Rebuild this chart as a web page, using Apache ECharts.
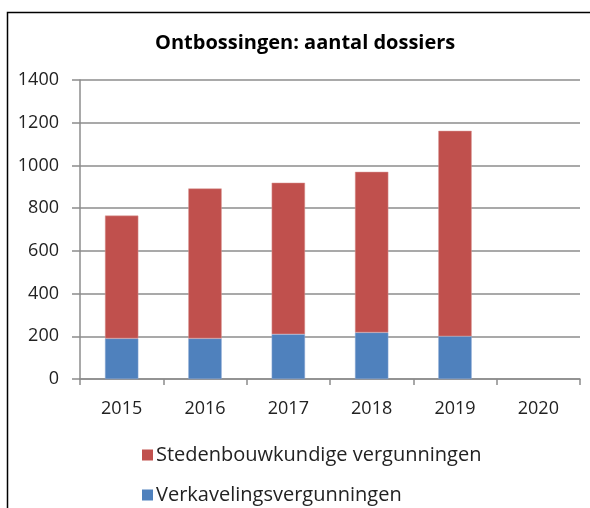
<!DOCTYPE html>
<html>
<head>
<meta charset="utf-8">
<script src="https://cdn.jsdelivr.net/npm/echarts@6/dist/echarts.min.js"></script>
<style>
  html, body { margin: 0; padding: 0; background: #fff; }
  #chart { width: 590px; height: 508px; }
</style>
</head>
<body>
<div id="chart"></div>
<script>
// categories
const years = ['2015', '2016', '2017', '2018', '2019', '2020'];
// verkavelingsvergunningen (onderste deel)
const verkaveling = [190, 190, 210, 218, 200, null];
// stedenbouwkundige vergunningen (bovenste deel)
const stedenbouw = [575, 702, 709, 752, 962, null];
const yTicks = { min: 0, max: 1400, interval: 200 };

const chart = echarts.init(document.getElementById('chart'));
const font = '"Open Sans", "Noto Sans", sans-serif';

// één legende per regel, onder elkaar
const legendItem = (name, top) => ({
  left: 137,
  top: top,
  itemWidth: 11,
  itemHeight: 11,
  icon: 'rect',
  itemStyle: { borderWidth: 0 },
  data: [name],
  textStyle: {
    fontFamily: font,
    fontSize: 20,
    color: '#222',
    padding: [0, 0, 0, -2],
  },
});

chart.setOption({
  animation: false,
  // kader rond de grafiek
  graphic: [
    {
      type: 'rect',
      shape: { x: 7.5, y: 12.5, width: 700, height: 700 },
      style: { fill: 'none', stroke: '#000', lineWidth: 1.5 },
      silent: true,
    },
  ],
  title: {
    text: 'Ontbossingen: aantal dossiers',
    left: 150,
    top: 28,
    textStyle: {
      fontFamily: font,
      fontSize: 20,
      fontWeight: 'bold',
      color: '#000',
    },
  },
  legend: [
    legendItem('Stedenbouwkundige vergunningen', 440),
    legendItem('Verkavelingsvergunningen', 480),
  ],
  grid: {
    left: 80,
    right: 10,
    top: 80,
    bottom: 129,
    containLabel: false,
  },
  xAxis: {
    type: 'category',
    data: years,
    axisLine: { lineStyle: { color: '#8c8c8c', width: 1.5 } },
    axisTick: { show: true, length: 6, lineStyle: { color: '#8c8c8c', width: 1.5 } },
    axisLabel: {
      margin: 21,
      fontFamily: font,
      fontSize: 18,
      color: '#222',
    },
  },
  yAxis: {
    type: 'value',
    min: yTicks.min,
    max: yTicks.max,
    interval: yTicks.interval,
    axisLine: { show: true, lineStyle: { color: '#8c8c8c', width: 1.5 } },
    axisTick: { show: true, length: 8, lineStyle: { color: '#8c8c8c', width: 1.5 } },
    splitLine: { lineStyle: { color: '#8c8c8c', width: 1.5 } },
    axisLabel: {
      margin: 21,
      fontFamily: font,
      fontSize: 18,
      color: '#222',
      formatter: (v) => String(v),
    },
  },
  series: [
    {
      name: 'Verkavelingsvergunningen',
      type: 'bar',
      stack: 'totaal',
      barWidth: '40%',
      itemStyle: { color: '#4f81bd', borderColor: '#8eaad6', borderWidth: 0.5 },
      data: verkaveling,
    },
    {
      name: 'Stedenbouwkundige vergunningen',
      type: 'bar',
      stack: 'totaal',
      barWidth: '40%',
      itemStyle: { color: '#c0504d', borderColor: '#d99694', borderWidth: 0.5 },
      data: stedenbouw,
    },
  ],
});
</script>
</body>
</html>
